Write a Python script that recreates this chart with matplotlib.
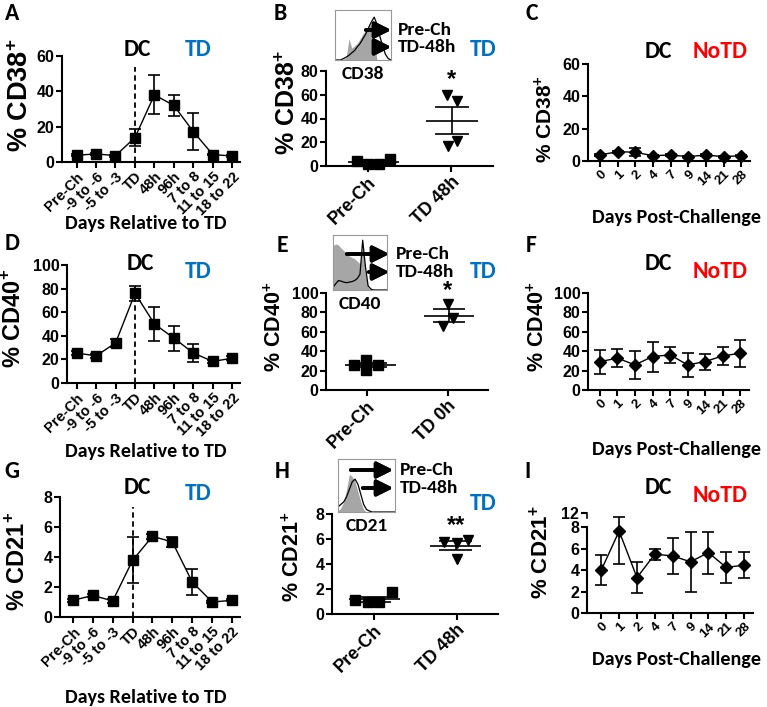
import numpy as np
import matplotlib.pyplot as plt

plt.rcParams['font.family'] = ['Liberation Sans', 'DejaVu Sans']
plt.rcParams['font.weight'] = 'bold'
plt.rcParams['mathtext.fontset'] = 'custom'
plt.rcParams['mathtext.rm'] = 'Liberation Sans:bold'
plt.rcParams['mathtext.bf'] = 'Liberation Sans:bold'

W, H = 767, 707
LBL = 'Carlito'         # fonte tipo Calibri para títulos
BLUE = '#0070c0'
RED = '#ff0000'

# --- Dados ---
rel_days = ['Pre-Ch', '-9 to -6', '-5 to -3', 'TD', '48h', '96h', '7 to 8', '11 to 15', '18 to 22']
post_days = ['0', '1', '2', '4', '7', '9', '14', '21', '28']

cd38_td = [3.8, 4.6, 3.6, 13.8, 38.0, 32.0, 17.2, 4.2, 3.4]
cd38_td_sem = [0.6, 0.6, 0.6, 5.0, 11.0, 6.0, 10.5, 0.5, 0.4]
cd38_notd = [3.7, 5.8, 5.4, 3.3, 3.7, 2.7, 3.7, 2.7, 3.3]
cd38_notd_sem = [0.5, 0.6, 2.6, 0.4, 0.4, 0.4, 0.4, 0.3, 0.4]
cd38_prech = [4.0, 1.4, 1.4, 5.6]
cd38_td48 = [60.0, 55.0, 16.5, 21.0]

cd40_td = [25.4, 23.0, 34.0, 76.0, 50.0, 38.0, 25.4, 18.3, 21.0]
cd40_td_sem = [2.0, 1.5, 3.5, 6.5, 14.5, 10.5, 8.0, 1.5, 1.5]
cd40_notd = [29.3, 32.8, 25.9, 34.5, 36.2, 25.9, 29.3, 35.2, 37.9]
cd40_notd_sem = [12.4, 9.0, 14.5, 15.5, 8.6, 12.0, 8.2, 9.0, 13.8]
cd40_prech = [26.0, 30.5, 20.5, 25.7]
cd40_td0 = [89.0, 74.6, 65.8]

cd21_td = [1.11, 1.44, 1.07, 3.78, 5.38, 5.0, 2.33, 1.0, 1.11]
cd21_td_sem = [0.1, 0.1, 0.12, 1.53, 0.15, 0.35, 0.85, 0.06, 0.06]
cd21_notd = [4.0, 7.63, 3.3, 5.48, 5.32, 4.77, 5.63, 4.25, 4.46]
cd21_notd_sem = [1.4, 3.1, 1.47, 0.5, 1.65, 2.77, 1.95, 1.47, 1.23]
cd21_prech = [1.09, 0.93, 0.96, 1.73]
cd21_td48 = [5.76, 5.68, 5.95, 4.43]

# histogramas (altura relativa, 21 pontos ao longo do eixo)
hist38_pre = [0, 0, 0, 0.02, 0.05, 0.45, 0.25, 0.3, 0.35, 0.45, 0.55, 0.62, 0.7, 0.75, 0.4, 0, 0, 0, 0, 0, 0]
hist38_td = [0, 0, 0, 0.03, 0.06, 0.1, 0.15, 0.2, 0.28, 0.35, 0.45, 0.55, 0.68, 0.8, 0.9, 0.75, 0.5, 0.3, 0.12, 0.03, 0]
hist40_pre = [0.85, 0.88, 0.86, 0.8, 0.75, 0.7, 0.65, 0.62, 0.6, 0.55, 0.5, 0.85, 0.3, 0.05, 0, 0, 0, 0, 0, 0, 0]
hist40_td = [0.05, 0.12, 0.18, 0.17, 0.15, 0.14, 0.15, 0.16, 0.18, 0.22, 0.3, 0.95, 0.45, 0.08, 0.02, 0, 0, 0, 0, 0, 0]
hist21_pre = [0.02, 0.08, 0.2, 0.45, 0.75, 0.7, 0.6, 0.4, 0.2, 0.05, 0, 0, 0, 0, 0, 0, 0, 0, 0, 0, 0]
hist21_td = [0.1, 0.15, 0.2, 0.3, 0.45, 0.6, 0.65, 0.55, 0.35, 0.15, 0.05, 0.02, 0, 0, 0, 0, 0, 0, 0, 0, 0]

fig = plt.figure(figsize=(W / 100, H / 100), dpi=100)


def add_ax(l, r, t, b):
    return fig.add_axes([l / W, 1 - b / H, (r - l) / W, (b - t) / H])


def ftext(x, y, s, **kw):
    fig.text(x / W, 1 - y / H, s, ha='center', va='center', **kw)


def style(ax, ylim, yticks, tick_fs=11.5):
    ax.set_ylim(*ylim)
    ax.set_yticks(yticks)
    ax.set_yticklabels([str(v) for v in yticks], fontsize=tick_fs, fontweight='bold')
    for s in ['top', 'right']:
        ax.spines[s].set_visible(False)
    for s in ['left', 'bottom']:
        ax.spines[s].set_linewidth(1.5)
    ax.tick_params(width=1.5, length=4, pad=1.5)


def timecourse(ax, labels, vals, sem, marker, ylim, yticks, ms=7, dash_top=None, xlim=(-0.6, 8.4), xfs=10.5):
    x = np.arange(len(labels))
    ax.errorbar(x, vals, yerr=sem, fmt='-' + marker, color='k', ms=ms, lw=1,
                elinewidth=1.2, capsize=4, capthick=1.2, clip_on=False, zorder=3)
    if dash_top is not None:
        ax.vlines(labels.index('TD'), 0, dash_top, colors='k', linestyles=(0, (3, 2)), lw=1.3)
    style(ax, ylim, yticks)
    ax.set_xlim(*xlim)
    ax.set_xticks(x)
    ax.set_xticklabels(labels, rotation=45, ha='right', rotation_mode='anchor',
                       fontsize=xfs, fontweight='bold')


def scatter(ax, groups, markers, offsets, centers, labels, ylim, yticks):
    for i, (vals, mk, off, c) in enumerate(zip(groups, markers, offsets, centers)):
        vals = np.array(vals)
        ax.plot(i + np.array(off), vals, mk, color='k', ms=6.5, ls='none', clip_on=False, zorder=3)
        m = vals.mean()
        se = vals.std(ddof=1) / np.sqrt(len(vals))
        ax.hlines(m, i + c - 0.31, i + c + 0.31, colors='k', lw=1.2)
        ax.hlines([m - se, m + se], i + c - 0.2, i + c + 0.2, colors='k', lw=1.2)
        ax.vlines(i + c, m - se, m + se, colors='k', lw=1.2)
    style(ax, ylim, yticks)
    ax.set_xlim(-0.5, 1.5)
    ax.set_xticks([0, 1])
    ax.set_xticklabels(labels, rotation=45, ha='right', rotation_mode='anchor',
                       fontsize=13, fontweight='bold')


def inset(l, r, t, b, pre, td, name, y1, y2, xa1, xa2, xend):
    ia = add_ax(l, r, t, b)
    xs = np.linspace(0, 1, len(pre))
    ia.fill_between(xs, 0, pre, color='#a6a6a6', lw=0)
    ia.plot(xs, td, color='k', lw=0.9)
    ia.set_xlim(0, 1)
    ia.set_ylim(0, 1.05)
    ia.set_xticks([])
    ia.set_yticks([])
    for s in ia.spines.values():
        s.set_color('#999999')
        s.set_linewidth(0.8)
    for y, xa, lab in [(y1, xa1, 'Pre-Ch'), (y2, xa2, 'TD-48h')]:
        fig.add_artist(plt.annotate('', xy=(xend, H - y), xytext=(xa, H - y),
                                    xycoords='figure pixels', textcoords='figure pixels',
                                    arrowprops=dict(arrowstyle='-|>,head_length=0.7,head_width=0.35',
                                                    lw=2.6, color='k', mutation_scale=14)))
        fig.text((xend + 4) / W, 1 - y / H, lab, ha='left', va='center', fontsize=14,
                 family=LBL, weight='bold')
    ftext((l + r) / 2, b + 14, name, fontsize=14, family=LBL, weight='bold')


def heads(xdc, xtd, y, tdtxt='TD', tdcol=BLUE, dy=6):
    if xdc is not None:
        ftext(xdc, y, 'DC', fontsize=17, family=LBL, weight='bold')
    ftext(xtd, y + dy, tdtxt, fontsize=17, family=LBL, weight='bold', color=tdcol)


# --- Linha 1: CD38 ---
axA = add_ax(62, 240, 56, 162)
timecourse(axA, rel_days, cd38_td, cd38_td_sem, 's', (0, 60), [0, 20, 40, 60], dash_top=54, xlim=(-0.75, 8.4))
axB = add_ax(326, 493, 71, 166)
scatter(axB, [cd38_prech, cd38_td48], ['s', 'v'],
        [[-0.13, 0, 0.14, 0.27], [-0.05, 0.07, -0.04, 0.07]], [0.07, 0.01],
        ['Pre-Ch', 'TD 48h'], (0, 80), [0, 20, 40, 60, 80])
axB.text(1, 73, '*', ha='center', va='center', fontsize=17)
axC = add_ax(588, 750, 64, 161)
timecourse(axC, post_days, cd38_notd, cd38_notd_sem, 'D', (0, 60), [0, 20, 40, 60], ms=6, xlim=(-0.68, 8.5), xfs=9.5)

# --- Linha 2: CD40 ---
axD = add_ax(67, 240, 265, 383)
timecourse(axD, rel_days, cd40_td, cd40_td_sem, 's', (0, 100), [0, 20, 40, 60, 80, 100], dash_top=84, xlim=(-0.5, 8.4))
axE = add_ax(326, 488, 293, 390)
scatter(axE, [cd40_prech, cd40_td0], ['s', 'v'],
        [[-0.15, -0.01, -0.01, 0.14], [0, 0.07, -0.06]], [0.05, 0.02],
        ['Pre-Ch', 'TD 0h'], (0, 100), [0, 20, 40, 60, 80, 100])
axE.text(1, 103, '*', ha='center', va='center', fontsize=17, clip_on=False)
axF = add_ax(588, 749, 293, 390)
timecourse(axF, post_days, cd40_notd, cd40_notd_sem, 'D', (0, 100), [0, 20, 40, 60, 80, 100], ms=6, xlim=(-0.68, 8.5), xfs=9.5)

# --- Linha 3: CD21 ---
axG = add_ax(60, 240, 497, 617)
timecourse(axG, rel_days, cd21_td, cd21_td_sem, 's', (0, 8), [0, 2, 4, 6, 8], dash_top=7.33, xlim=(-0.65, 8.4))
axH = add_ax(332, 498, 514, 614)
scatter(axH, [cd21_prech, cd21_td48], ['s', 'v'],
        [[-0.22, -0.07, 0.07, 0.22], [-0.15, 0, 0.14, 0]], [0.01, -0.01],
        ['Pre-Ch', 'TD 48h'], (0, 8), [0, 2, 4, 6, 8])
axH.text(1, 7.1, '**', ha='center', va='center', fontsize=17)

# eixo quebrado em I (8 -> 12 comprimido)
k_brk = 0.33


def fwd(y):
    y = np.asarray(y, dtype=float)
    return np.where(y <= 8, y, 8 + (y - 8) * k_brk)


def inv(y):
    y = np.asarray(y, dtype=float)
    return np.where(y <= 8, y, 8 + (y - 8) / k_brk)


axI = add_ax(587, 753, 513, 613)
axI.set_yscale('function', functions=(fwd, inv))
timecourse(axI, post_days, cd21_notd, cd21_notd_sem, 'D', (0, 12), [0, 2, 4, 6, 8, 12], ms=6, xlim=(-0.8, 8.5), xfs=9.5)
axI.spines['left'].set_bounds(0, 8)
axI.plot([0, 0], [10.6, 12], color='k', lw=1.2, clip_on=False, transform=axI.get_yaxis_transform())

# histogramas
inset(335, 391, 10, 60, hist38_pre, hist38_td, 'CD38', 30, 47, 363, 377, 394)
inset(333, 387, 235, 290, hist40_pre, hist40_td, 'CD40', 254, 272, 344, 366, 392)
inset(338, 395, 459, 512, hist21_pre, hist21_td, 'CD21', 470, 488, 348, 360, 396)

# rótulos Y
ylabs = [(21, 95, 'CD38', 19.5), (288, 103, 'CD38', 18), (544, 119, 'CD38', 15),
         (14, 318, 'CD40', 17), (275, 327, 'CD40', 15.5), (538, 327, 'CD40', 15.5),
         (18, 561, 'CD21', 17), (293, 557, 'CD21', 15.5), (541, 552, 'CD21', 16)]
for x, y, m, fs in ylabs:
    ftext(x, y, '% ' + m + r'$^{+}$', rotation=90, fontsize=fs, weight='bold')

# rótulos X
for y in [223, 452, 697]:
    ftext(146, y, 'Days Relative to TD', fontsize=14.5, family=LBL, weight='bold')
for y in [217, 450, 660]:
    ftext(677, y, 'Days Post-Challenge', fontsize=14.5, family=LBL, weight='bold')

# cabeçalhos DC / TD / NoTD
heads(137, 198, 50, dy=0)
heads(None, 483, 50, dy=0)
heads(658, 720, 52, tdtxt='NoTD', tdcol=RED, dy=0)
heads(140, 198, 263, dy=8)
heads(None, 483, 272, dy=0)
heads(658, 720, 263, tdtxt='NoTD', tdcol=RED, dy=8)
heads(137, 198, 487, dy=7)
heads(None, 483, 504, dy=0)
heads(658, 720, 487, tdtxt='NoTD', tdcol=RED, dy=8)

# letras dos painéis
for x, y, s in [(12, 13, 'A'), (280, 13, 'B'), (532, 13, 'C'),
                (12, 243, 'D'), (282, 245, 'E'), (531, 245, 'F'),
                (12, 471, 'G'), (282, 471, 'H'), (528, 471, 'I')]:
    ftext(x, y, s, fontsize=17, family=LBL, weight='bold')

plt.savefig('out.png', dpi=100)
